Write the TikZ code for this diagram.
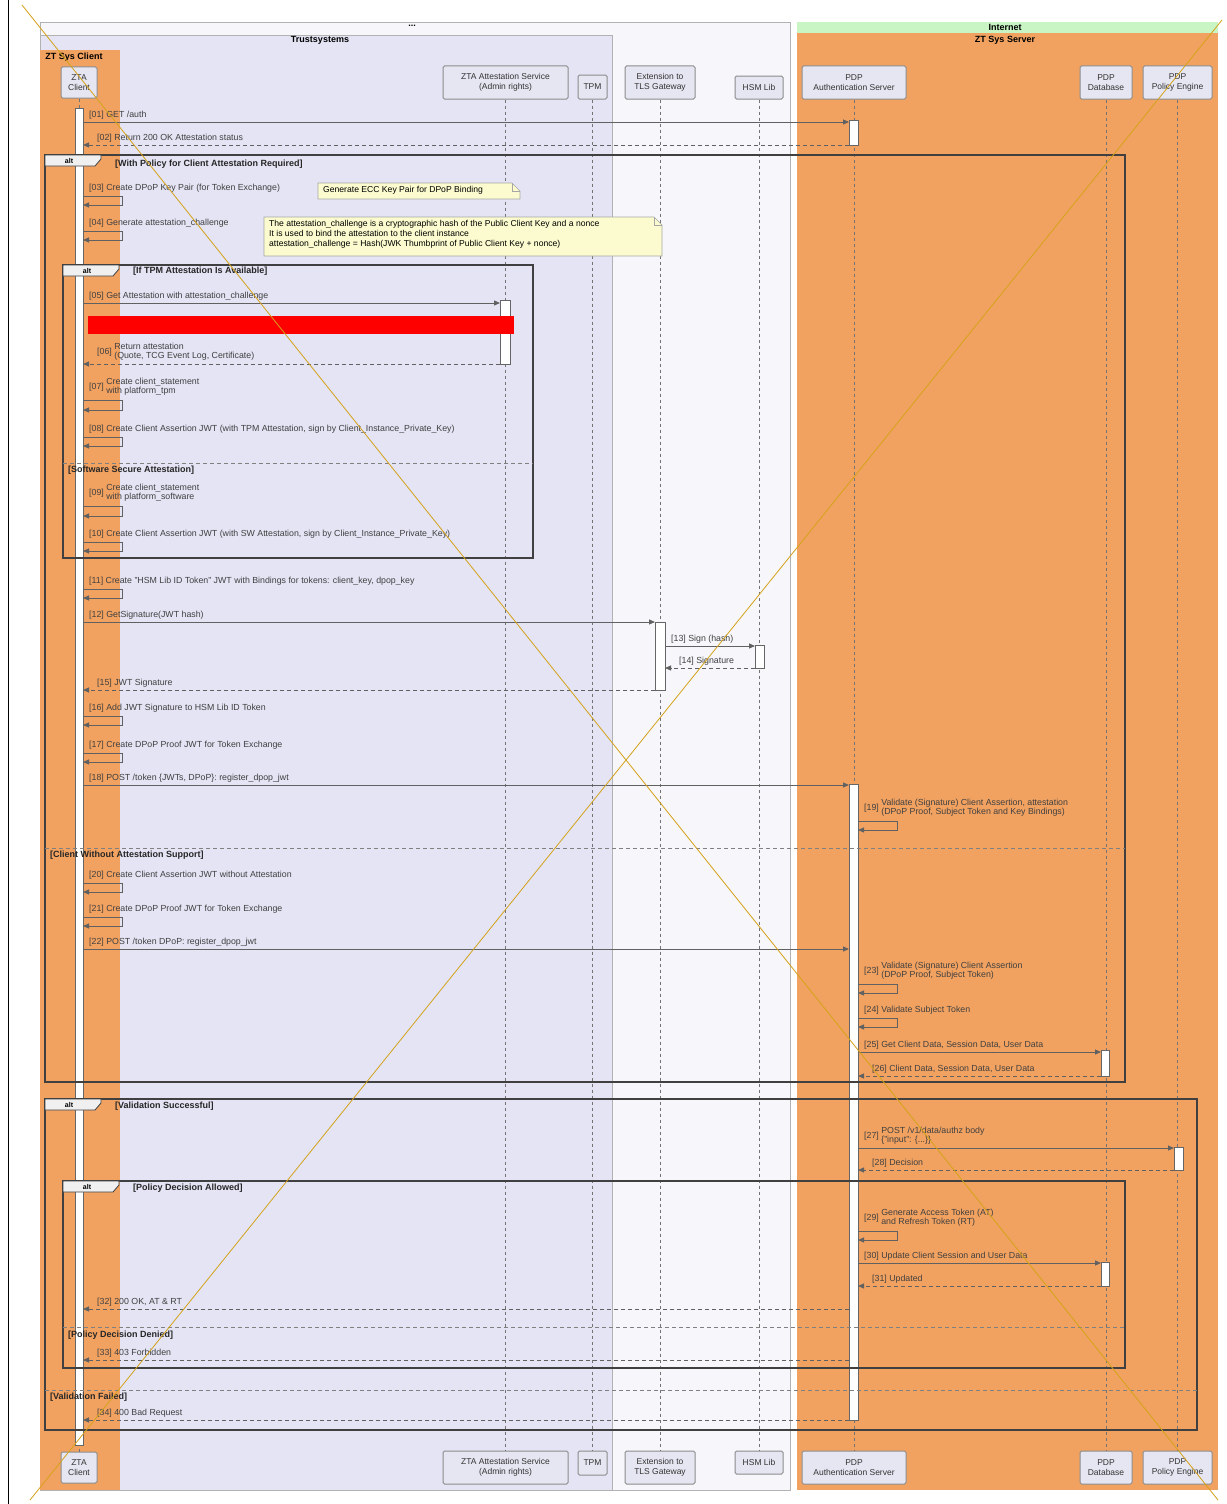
\documentclass[tikz,border=0pt]{standalone}
\usepackage{fontspec}
\setmainfont{Liberation Sans}
\usetikzlibrary{calc,arrows.meta}

\definecolor{orangebg}{HTML}{F2A260}
\definecolor{lavbg}{HTML}{E4E4F5}
\definecolor{palebg}{HTML}{F7F7FB}
\definecolor{greenbar}{HTML}{C9F5C4}
\definecolor{partfill}{HTML}{E6E6F2}
\definecolor{notefill}{HTML}{FBFBCF}
\definecolor{xline}{HTML}{D4A21A}

\tikzset{
  part/.style={draw=black!45, fill=partfill, rounded corners=1.5pt, line width=1pt,
    align=center, font=\fontsize{8.5}{10}\selectfont, text=black!80, inner sep=1pt},
  lifeline/.style={draw=black!55, dash pattern=on 3pt off 3pt, line width=0.5pt},
  actbar/.style={draw=black!60, fill=white, line width=0.8pt},
  sync/.style={draw=black!62, line width=1pt, -{Triangle[length=6pt,width=5pt]}},
  reply/.style={sync, dash pattern=on 4pt off 3pt},
  lbl/.style={font=\fontsize{8.8}{10}\selectfont, text=black!75, inner sep=0pt, align=left},
  frame/.style={draw=black!75, line width=1.3pt},
  guard/.style={font=\bfseries\fontsize{9}{10}\selectfont, text=black!85, inner sep=0pt, anchor=west},
  sepline/.style={draw=black!50, dash pattern=on 4pt off 3pt, line width=0.7pt},
  alttab/.style={draw=black!75, fill=black!6, line width=0.8pt},
  tabtxt/.style={font=\bfseries\fontsize{7}{8}\selectfont, inner sep=0pt},
  notebox/.style={draw=black!35, fill=notefill, line width=0.6pt},
  notetxt/.style={font=\fontsize{8.6}{10}\selectfont, inner sep=0pt, align=left, anchor=north west},
  grptitle/.style={font=\bfseries\fontsize{9}{10}\selectfont, inner sep=0pt},
}

% numbered two-line label: number on the left, text block beside it
\newcommand\twoline[3]{#1\ \renewcommand\arraystretch{0.95}\begin{tabular}[c]{@{}l@{}}#2\\#3\end{tabular}}

% message drawn between two lifeline edges at height y
\newcommand\callmsg[5]{% name, y, from, to, label
  \draw[sync] (#3 |- 0,#2) -- (#4 |- 0,#2);
  \node[lbl, anchor=south west] (#1) at ($(#3 |- 0,#2)+(6,-2)$) {#5};}
\newcommand\replymsg[5]{% name, y, from, to, label
  \draw[reply] (#3 |- 0,#2) -- (#4 |- 0,#2);
  \node[lbl, anchor=south west] (#1) at ($(#4 |- 0,#2)+(14,-2)$) {#5};}
\newcommand\selfmsg[5]{% name, top, bottom, edge, label
  \draw[sync] (#4 |- 0,#2) -- ++(39,0) -- ++(0,#3-#2) -- (#4 |- 0,#3);
  \node[lbl, anchor=south west] (#1) at ($(#4 |- 0,#2)+(6,-3)$) {#5};}
% alt frame with tab
\newcommand\altframe[5]{% name, x1, y1, x2, y2
  \draw[frame] (#2,#3) rectangle (#4,#5);
  \draw[alttab] (#2,#3) -- (#2+56,#3) -- (#2+56,#3+4) -- (#2+50,#3+11) -- (#2,#3+11) -- cycle;
  \node[tabtxt] (#1) at (#2+24,#3+5.5) {alt};}

\begin{document}
\begin{tikzpicture}[x=1pt,y=-1pt]
\useasboundingbox (0,0) rectangle (1226,1504);
\fill[white] (0,0) rectangle (1226,1504);
\draw[black, line width=1pt] (8,0) -- (8,1504);

% ---- grouping boxes ----
\draw[fill=palebg, draw=black!30, line width=0.8pt] (40,22) rectangle (790,1490);
\node[grptitle] (gdots) at (412,26) {...};
\draw[fill=lavbg, draw=black!30, line width=0.8pt] (40,35) rectangle (612,1490);
\node[grptitle] (gtrust) at (320,40) {Trustsystems};
\fill[orangebg] (40,50) rectangle (120,1490);
\node[grptitle] (gclient) at (74,57) {ZT Sys Client};
\fill[greenbar] (797,22) rectangle (1218,33);
\node[grptitle] (gnet) at (1005,27.5) {Internet};
\fill[orangebg] (797,33) rectangle (1218,1490);
\node[grptitle] (gserver) at (1005,40) {ZT Sys Server};

% ---- participants (top and bottom) ----
\foreach \nm/\yy in {T/82.5, B/1467.5} {
  \node[part, minimum width=36pt, minimum height=31pt] (cl\nm) at (79,\yy) {ZTA\\Client};
  \node[part, minimum width=125pt, minimum height=33pt] (at\nm) at (505.5,\yy) {ZTA Attestation Service\\(Admin rights)};
  \node[part, minimum width=70pt, minimum height=33pt] (ex\nm) at (660,\yy) {Extension to\\TLS Gateway};
  \node[part, minimum width=104pt, minimum height=33pt] (pd\nm) at (854,\yy) {PDP\\Authentication Server};
  \node[part, minimum width=52pt, minimum height=33pt] (db\nm) at (1106,\yy) {PDP\\Database};
  \node[part, minimum width=69pt, minimum height=33pt] (pe\nm) at (1177.5,\yy) {PDP\\Policy Engine};
}
\node[part, minimum width=29pt, minimum height=24pt] (tpT) at (592.5,87) {TPM};
\node[part, minimum width=29pt, minimum height=24pt] (tpB) at (592.5,1463) {TPM};
\node[part, minimum width=48pt, minimum height=23pt] (hsT) at (759,87.5) {HSM Lib};
\node[part, minimum width=48pt, minimum height=23pt] (hsB) at (759,1462.5) {HSM Lib};

% lifelines
\foreach \p in {cl,at,tp,ex,hs,pd,db,pe}
  \draw[lifeline] (\p T.south) -- (\p B.north);

% ---- activation bars ----
\draw[actbar] (75,108) rectangle (83,1445);
\draw[actbar] (849,120) rectangle (858,145);
\draw[actbar] (849,784) rectangle (858,1420);
\draw[actbar] (500,300) rectangle (510,364);
\draw[actbar] (655,622) rectangle (665,690);
\draw[actbar] (755,645) rectangle (764,668);
\draw[actbar] (1101,1050) rectangle (1109,1076);
\draw[actbar] (1101,1262) rectangle (1109,1286);
\draw[actbar] (1174,1147) rectangle (1183,1170);

% bar edges used as message end points
\coordinate (cR) at (83,0);
\coordinate (aL) at (500,0);
\coordinate (eL) at (655,0);
\coordinate (eR) at (665,0);
\coordinate (hL) at (755,0);
\coordinate (pL) at (849,0);
\coordinate (pR) at (858,0);
\coordinate (dL) at (1101,0);
\coordinate (qL) at (1174,0);

% ---- combined fragments ----
\altframe{altA}{45}{155}{1125}{1082}
\node[guard] (gA1) at (115,164) {[With Policy for Client Attestation Required]};
\draw[sepline] (45,848) -- (1125,848);
\node[guard] (gA2) at (50,855.5) {[Client Without Attestation Support]};

\altframe{altB}{63}{265}{533}{558}
\node[guard] (gB1) at (133,271) {[If TPM Attestation Is Available]};
\draw[sepline] (63,463) -- (533,463);
\node[guard] (gB2) at (68,470) {[Software Secure Attestation]};

\altframe{altC}{45}{1099}{1197}{1430}
\node[guard] (gC1) at (115,1106) {[Validation Successful]};
\draw[sepline] (45,1390) -- (1197,1390);
\node[guard] (gC2) at (50,1397) {[Validation Failed]};

\altframe{altD}{63}{1181}{1125}{1368}
\node[guard] (gD1) at (133,1188) {[Policy Decision Allowed]};
\draw[sepline] (63,1327) -- (1125,1327);
\node[guard] (gD2) at (68,1335) {[Policy Decision Denied]};

% ---- notes ----
\draw[notebox] (318,183) -- (512,183) -- (520,191) -- (520,199) -- (318,199) -- cycle;
\draw[notebox, fill=none] (512,183) -- (512,191) -- (520,191);
\node[notetxt] (n1) at (323,186) {Generate ECC Key Pair for DPoP Binding};
\draw[notebox] (264,217) -- (654,217) -- (662,225) -- (662,256) -- (264,256) -- cycle;
\draw[notebox, fill=none] (654,217) -- (654,225) -- (662,225);
\node[notetxt] (n2) at (269,220.5) {The attestation\_challenge is a cryptographic hash of the Public Client Key and a nonce\\It is used to bind the attestation to the client instance\\attestation\_challenge = Hash(JWK Thumbprint of Public Client Key + nonce)};

% ---- messages ----
\callmsg{m01}{122}{cR}{pL}{[01] GET /auth}
\replymsg{m02}{145}{pL}{cR}{[02] Return 200 OK Attestation status}
\selfmsg{m03}{196}{205}{cR}{[03] Create DPoP Key Pair (for Token Exchange)}
\selfmsg{m04}{231}{240}{cR}{[04] Generate attestation\_challenge}
\callmsg{m05}{303}{cR}{aL}{[05] Get Attestation with attestation\_challenge}
\fill[red] (88,316) rectangle (514,334);
\replymsg{m06}{364}{aL}{cR}{\twoline{[06]}{Return attestation}{(Quote, TCG Event Log, Certificate)}}
\selfmsg{m07}{400}{410}{cR}{\twoline{[07]}{Create client\_statement}{with platform\_tpm}}
\selfmsg{m08}{437}{446}{cR}{[08] Create Client Assertion JWT (with TPM Attestation, sign by Client\_Instance\_Private\_Key)}
\selfmsg{m09}{506}{516}{cR}{\twoline{[09]}{Create client\_statement}{with platform\_software}}
\selfmsg{m10}{542}{551}{cR}{[10] Create Client Assertion JWT (with SW Attestation, sign by Client\_Instance\_Private\_Key)}
\selfmsg{m11}{589}{598}{cR}{[11] Create "HSM Lib ID Token" JWT with Bindings for tokens: client\_key, dpop\_key}
\callmsg{m12}{622}{cR}{eL}{[12] GetSignature(JWT hash)}
\callmsg{m13}{646}{eR}{hL}{[13] Sign (hash)}
\replymsg{m14}{668}{hL}{eR}{[14] Signature}
\replymsg{m15}{690}{eL}{cR}{[15] JWT Signature}
\selfmsg{m16}{716}{725}{cR}{[16] Add JWT Signature to HSM Lib ID Token}
\selfmsg{m17}{753}{762}{cR}{[17] Create DPoP Proof JWT for Token Exchange}
\callmsg{m18}{785}{cR}{pL}{[18] POST /token \{JWTs, DPoP\}: register\_dpop\_jwt}
\selfmsg{m19}{821}{830}{pR}{\twoline{[19]}{Validate (Signature) Client Assertion, attestation}{(DPoP Proof, Subject Token and Key Bindings)}}
\selfmsg{m20}{883}{892}{cR}{[20] Create Client Assertion JWT without Attestation}
\selfmsg{m21}{917}{926}{cR}{[21] Create DPoP Proof JWT for Token Exchange}
\callmsg{m22}{949}{cR}{pL}{[22] POST /token DPoP: register\_dpop\_jwt}
\selfmsg{m23}{984}{993}{pR}{\twoline{[23]}{Validate (Signature) Client Assertion}{(DPoP Proof, Subject Token)}}
\selfmsg{m24}{1018}{1027}{pR}{[24] Validate Subject Token}
\callmsg{m25}{1052}{pR}{dL}{[25] Get Client Data, Session Data, User Data}
\replymsg{m26}{1076}{dL}{pR}{[26] Client Data, Session Data, User Data}
\callmsg{m27}{1148}{pR}{qL}{\twoline{[27]}{POST /v1/data/authz body}{\{"input": \{...\}\}}}
\replymsg{m28}{1170}{qL}{pR}{[28] Decision}
\selfmsg{m29}{1231}{1240}{pR}{\twoline{[29]}{Generate Access Token (AT)}{and Refresh Token (RT)}}
\callmsg{m30}{1263}{pR}{dL}{[30] Update Client Session and User Data}
\replymsg{m31}{1286}{dL}{pR}{[31] Updated}
\replymsg{m32}{1309}{pL}{cR}{[32] 200 OK, AT \& RT}
\replymsg{m33}{1360}{pL}{cR}{[33] 403 Forbidden}
\replymsg{m34}{1420}{pL}{cR}{[34] 400 Bad Request}

% ---- crossing guide lines ----
\draw[xline, line width=0.8pt] (22,5) -- (1218,1500);
\draw[xline, line width=0.8pt] (1222,20) -- (30,1500);
\end{tikzpicture}
\end{document}
